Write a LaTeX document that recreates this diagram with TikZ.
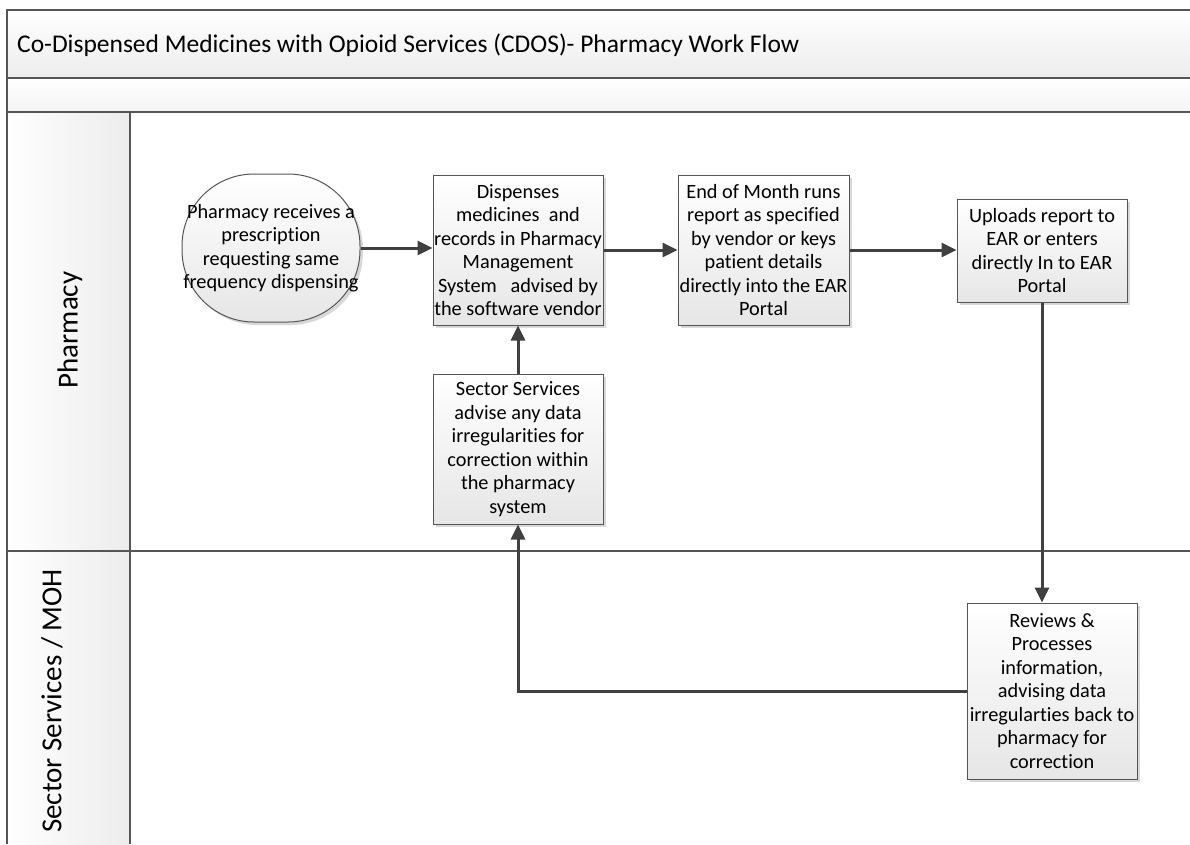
\documentclass[tikz,border=0pt]{standalone}
\usepackage{fontspec}
\setmainfont[Ligatures=CommonOff]{Carlito}
\usetikzlibrary{arrows.meta,shadows,calc}
\definecolor{linec}{HTML}{404040}
\definecolor{framec}{HTML}{555555}
\definecolor{boxb}{HTML}{E6E6E6}
\definecolor{bandb}{HTML}{ECECEC}
\begin{document}
\begin{tikzpicture}[x=1pt,y=-1pt,
  box/.style={draw=framec,line width=1pt,top color=white,bottom color=boxb,
    drop shadow={shadow xshift=3pt,shadow yshift=-3pt,fill=black!30,opacity=0.5},
    inner sep=0pt,align=center,font=\fontsize{20.3}{23.5}\selectfont},
  flow/.style={draw=linec,line width=3pt,-{Triangle[length=15pt,width=14pt]}},
  frameline/.style={draw=framec,line width=2pt},
  lanelabel/.style={rotate=90,font=\fontsize{29}{34}\selectfont,inner sep=0pt}]
\useasboundingbox (0,0) rectangle (1190,844);
% bands
\shade[top color=white,bottom color=bandb] (7,10) rectangle (1190,78);
\shade[top color=white,bottom color=bandb!60] (7,78) rectangle (1190,112);
\shade[left color=white,right color=bandb] (7,112) rectangle (130,844);
\draw[frameline] (1190,10) -- (7,10) -- (7,844);
\draw[frameline] (7,78) -- (1190,78);
\draw[frameline] (7,112) -- (1190,112);
\draw[frameline] (7,551) -- (1190,551);
\draw[frameline] (130,112) -- (130,844);
\node[anchor=west,inner sep=0pt,font=\fontsize{25.5}{30}\selectfont] (title) at (17,45)
  {Co-Dispensed Medicines with Opioid Services (CDOS)- Pharmacy Work Flow};
\node[lanelabel] (lane1) at (70,330) {Pharmacy};
\node[lanelabel] (lane2) at (52,701) {Sector Services / MOH};
% nodes
\node[box,rounded corners=72pt,minimum width=178pt,minimum height=148pt] (start) at (271,248)
  {Pharmacy receives a\\prescription\\requesting same\\frequency dispensing};
\node[box,minimum width=170pt,minimum height=150pt] (disp) at (518,250)
  {Dispenses\\medicines\ \ and\\records in Pharmacy\\Management\\System\ \ \ advised by\\the software vendor};
\node[box,minimum width=171pt,minimum height=150pt] (eom) at (763.5,250)
  {End of Month runs\\report as specified\\by vendor or keys\\patient details\\directly into the EAR\\Portal};
\node[box,minimum width=170pt,minimum height=103pt] (up) at (1042,250.5)
  {Uploads report to\\EAR or enters\\directly In to EAR\\Portal};
\node[box,minimum width=170pt,minimum height=150pt] (sec) at (518,449)
  {Sector Services\\advise any data\\irregularities for\\correction within\\the pharmacy\\system};
\node[box,minimum width=170pt,minimum height=176pt] (rev) at (1052,691)
  {Reviews \&\\Processes\\information,\\advising data\\irregularties back to\\pharmacy for\\correction};
% connectors
\draw[flow] (start.east) -- (start.east -| disp.west);
\draw[flow] (disp.east) -- (disp.east -| eom.west);
\draw[flow] (eom.east) -- (eom.east -| up.west);
\draw[flow] (up.south) -- (up.south |- rev.north);
\draw[flow] (rev.west) -| (sec.south);
\draw[flow] (sec.north) -- (disp.south);
\end{tikzpicture}
\end{document}
